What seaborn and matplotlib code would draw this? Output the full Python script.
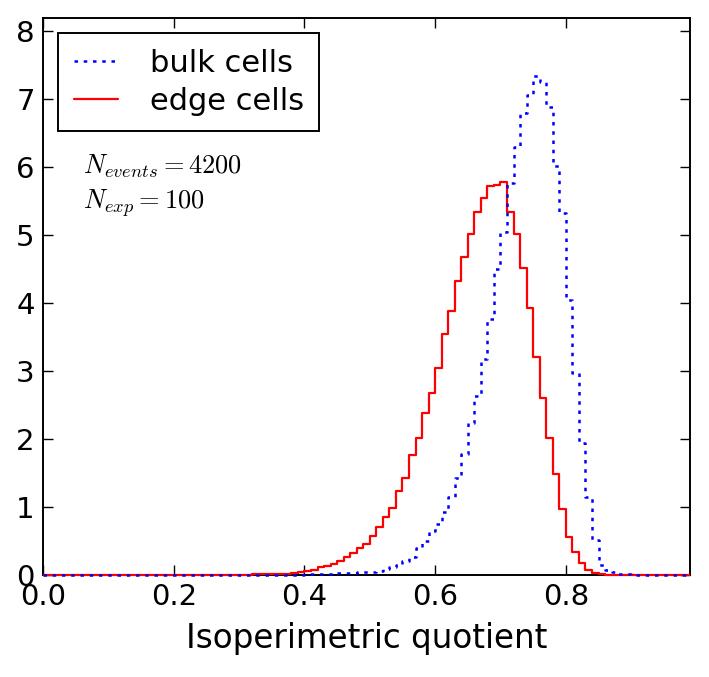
import numpy as np
import pandas as pd
import seaborn as sns
import matplotlib.pyplot as plt
from matplotlib.transforms import Bbox, TransformedBbox

# normalised histograms of the isoperimetric quotient (bin width 0.01)
bin_width = 0.01

# bulk cells: one value per bin, first bin starts at 0.40
bulk_start = 0.40
bulk_vals = [0.01, 0.01, 0.015, 0.02, 0.02, 0.025, 0.03, 0.035, 0.04, 0.045,
             0.05, 0.06, 0.09, 0.11, 0.15, 0.20, 0.26, 0.40, 0.50, 0.65,
             0.75, 0.93, 1.15, 1.42, 1.78, 2.23, 2.63, 3.17, 3.77, 4.50,
             5.04, 5.77, 6.30, 6.80, 7.06, 7.34, 7.25, 6.88, 6.02, 5.32,
             4.05, 2.97, 1.94, 1.15, 0.51, 0.15, 0.08, 0.04, 0.02, 0.01]

# edge cells: first bin starts at 0.30
edge_start = 0.30
edge_vals = [0.005, 0.005, 0.008, 0.01, 0.012, 0.014, 0.017, 0.02, 0.03, 0.05,
             0.06, 0.08, 0.11, 0.13, 0.16, 0.21, 0.27, 0.33, 0.40, 0.46,
             0.57, 0.70, 0.85, 0.99, 1.24, 1.43, 1.76, 2.02, 2.38, 2.67,
             3.05, 3.55, 3.88, 4.32, 4.67, 5.02, 5.34, 5.54, 5.72, 5.74,
             5.78, 5.34, 5.02, 4.52, 3.92, 3.20, 2.60, 2.01, 1.48, 0.97,
             0.56, 0.34, 0.17, 0.08, 0.03, 0.01]

labels = ['bulk cells', 'edge cells']
n_events = 4200
n_exp = 100


def to_frame(start, vals):
    centers = start + bin_width * (np.arange(len(vals)) + 0.5)
    return pd.DataFrame({'iq': centers, 'density': vals})


bulk_df = to_frame(bulk_start, bulk_vals)
edge_df = to_frame(edge_start, edge_vals)

sns.set_style('ticks')
plt.rcParams['mathtext.fontset'] = 'cm'
plt.rcParams['xtick.direction'] = 'in'
plt.rcParams['ytick.direction'] = 'in'
for key in ['text.color', 'axes.labelcolor', 'xtick.color', 'ytick.color']:
    plt.rcParams[key] = 'black'

fig = plt.figure(figsize=(7.09, 6.77), dpi=100)
ax = fig.add_axes([0.0607, 0.1507, 0.9125, 0.8227])

sns.histplot(data=bulk_df, x='iq', weights='density', binwidth=bin_width,
             binrange=(0, 1), element='step', fill=False, color='#0000ff',
             linewidth=1.8, linestyle=(0, (1.4, 2.3)), ax=ax)
sns.histplot(data=edge_df, x='iq', weights='density', binwidth=bin_width,
             binrange=(0, 1), element='step', fill=False, color='#ff0000',
             linewidth=1.6, ax=ax)
# outlines sit on top of the bottom spine, like the reference;
# clip box reaches a little below the axes so the zero level stays whole
clip = TransformedBbox(Bbox([[0, -0.02], [1, 1]]), ax.transAxes)
for ln, z in zip(ax.lines, [3.2, 3.0]):
    ln.set_zorder(z)
    ln.set_clip_box(clip)
    ln.set_clip_path(None)

ax.set_xlim(0, 0.99)
ax.set_ylim(0, 8.19)
ax.set_xticks([0.0, 0.2, 0.4, 0.6, 0.8])
ax.set_xticklabels(['0.0', '0.2', '0.4', '0.6', '0.8'])
ax.set_yticks(range(9))
ax.tick_params(axis='both', which='major', labelsize=21, length=7, width=1,
               top=True, right=True, pad=6, colors='black')
for s in ax.spines.values():
    s.set_linewidth(1.4)
    s.set_color('black')
    s.set_zorder(2.5)

ax.set_xlabel('Isoperimetric quotient', fontsize=23.5, labelpad=8)
ax.set_ylabel('')

ax.legend(ax.lines, labels, loc='upper left', fontsize=22, frameon=True,
          fancybox=False, edgecolor='black', framealpha=1,
          handlelength=1.45, handletextpad=1.05, borderaxespad=0.5,
          borderpad=0.5, labelspacing=0.3)
ax.get_legend().get_frame().set_linewidth(1.4)

ax.text(0.062, 0.758, r'$N_{events} = %d$' % n_events, transform=ax.transAxes,
        fontsize=19, va='top')
ax.text(0.062, 0.697, r'$N_{exp} = %d$' % n_exp, transform=ax.transAxes,
        fontsize=19, va='top')

fig.savefig('out.png', dpi=100)
